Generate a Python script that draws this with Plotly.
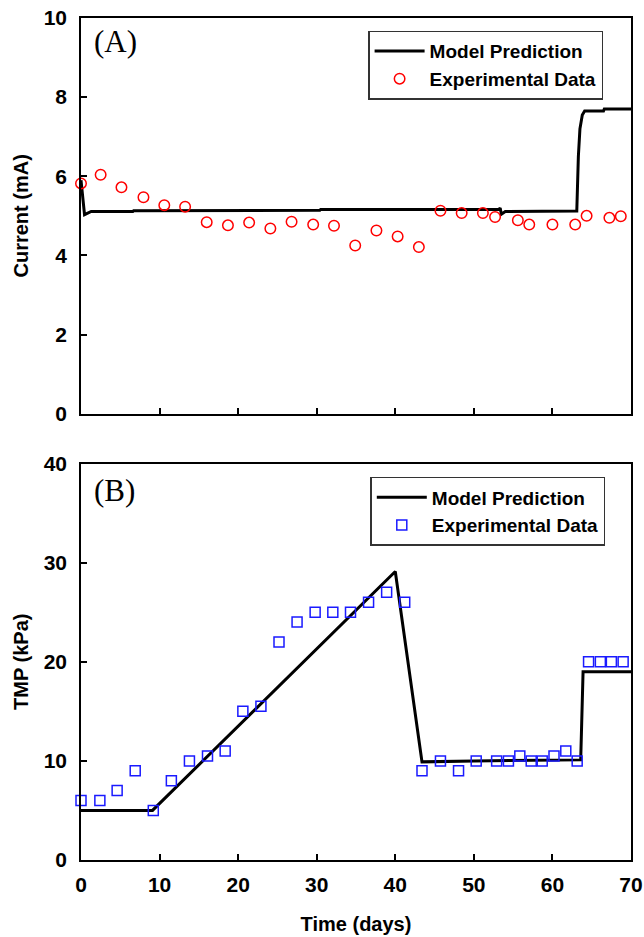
import plotly.graph_objects as go
from plotly.subplots import make_subplots

# ---- Data (A) Current ----
current_days = [0.0, 2.5, 5.15, 7.95, 10.6, 13.25, 16.0, 18.7, 21.4, 24.1, 26.8, 29.55, 32.2,
                34.9, 37.6, 40.3, 43.0, 45.75, 48.45, 51.15, 52.7, 55.6, 57.05, 60.0, 62.9,
                64.35, 67.25, 68.7]
current_vals = [5.82, 6.04, 5.72, 5.47, 5.27, 5.23, 4.84, 4.76, 4.83, 4.68, 4.85, 4.78, 4.75,
                4.25, 4.63, 4.48, 4.21, 5.13, 5.07, 5.07, 4.97, 4.89, 4.78, 4.78, 4.78,
                5.0, 4.95, 4.99]
model_a_days = [0, 0.45, 1.3, 6.6, 6.7, 12.5, 12.6, 30.4, 30.5, 53.2, 53.35, 53.5, 54.0,
                63.1, 63.3, 63.5, 63.8, 64.1, 66.5, 66.6, 70]
model_a_vals = [5.9, 5.03, 5.11, 5.11, 5.13, 5.13, 5.14, 5.14, 5.16, 5.16, 5.2, 5.04, 5.11,
                5.12, 6.5, 7.2, 7.55, 7.65, 7.65, 7.7, 7.7]

# ---- Data (B) TMP ----
tmp_days = [0, 2.4, 4.6, 6.9, 9.2, 11.5, 13.8, 16.1, 18.35, 20.6, 22.9, 25.2, 27.5, 29.8,
            32.05, 34.3, 36.6, 38.9, 41.2, 43.4, 45.75, 48.05, 50.3, 52.9, 54.4, 55.85,
            57.3, 58.7, 60.2, 61.7, 63.15, 64.6, 66.1, 67.5, 69.0]
tmp_vals = [6, 6, 7, 9, 5, 8, 10, 10.5, 11, 15, 15.5, 22, 24, 25, 25, 25, 26, 27, 26,
            9, 10, 9, 10, 10, 10, 10.5, 10, 10, 10.5, 11, 10, 20, 20, 20, 20]
model_b_days = [0, 9.1, 40.0, 43.4, 50.0, 63.6, 63.9, 70]
model_b_vals = [5, 5, 29.1, 9.9, 10.0, 10.1, 19, 19]

x_ticks = [0, 10, 20, 30, 40, 50, 60, 70]
ya_ticks = [0, 2, 4, 6, 8, 10]
yb_ticks = [0, 10, 20, 30, 40]

FONT = "Liberation Sans, Arial, sans-serif"
SERIF = "Liberation Serif, Times New Roman, serif"

fig = make_subplots(rows=2, cols=1, shared_xaxes=False, vertical_spacing=0.06)

fig.add_trace(go.Scatter(x=model_a_days, y=model_a_vals, mode="lines", name="Model Prediction",
                         line=dict(color="black", width=3), legend="legend"), row=1, col=1)
fig.add_trace(go.Scatter(x=current_days, y=current_vals, mode="markers", name="Experimental Data",
                         marker=dict(symbol="circle-open", size=10.5, color="#ff0000",
                                     line=dict(width=1.5, color="#ff0000")),
                         cliponaxis=False, legend="legend"), row=1, col=1)
fig.add_trace(go.Scatter(x=model_b_days, y=model_b_vals, mode="lines", name="Model Prediction",
                         line=dict(color="black", width=3), legend="legend2"), row=2, col=1)
fig.add_trace(go.Scatter(x=tmp_days, y=tmp_vals, mode="markers", name="Experimental Data",
                         marker=dict(symbol="square-open", size=10, color="#1a1aff",
                                     line=dict(width=1.5, color="#1a1aff")),
                         cliponaxis=False, legend="legend2"), row=2, col=1)

axis_common = dict(showline=True, linecolor="black", linewidth=1.5, mirror=True,
                   ticks="inside", ticklen=6, tickwidth=1.5, tickcolor="black",
                   showgrid=False, zeroline=False, automargin=False,
                   tickfont=dict(family=FONT, size=21, color="black", weight="bold"))

top_dom = [(860 - 413.7) / 842, 1.0]
bot_dom = [0.0, (860 - 463.5) / 842]

title_font = dict(family=FONT, size=20, color="black", weight="bold")

fig.update_xaxes(range=[0, 70], tickvals=x_ticks, **axis_common)
fig.update_xaxes(showticklabels=False, row=1, col=1)
fig.update_xaxes(title=dict(text="Time (days)", standoff=22, font=title_font),
                 ticklabelstandoff=5, row=2, col=1)
fig.update_yaxes(**axis_common, ticklabelstandoff=8)
fig.update_yaxes(range=[0, 10], tickvals=ya_ticks, domain=top_dom,
                 title=dict(text="Current (mA)", standoff=10, font=title_font),
                 row=1, col=1)
fig.update_yaxes(range=[0, 40], tickvals=yb_ticks, domain=bot_dom,
                 title=dict(text="TMP (kPa)", standoff=10, font=title_font),
                 row=2, col=1)

legend_common = dict(bgcolor="white", bordercolor="#333333", borderwidth=1.5,
                     font=dict(family=FONT, size=19, color="black", weight="bold"),
                     xanchor="left", yanchor="top", tracegroupgap=0, itemwidth=50)

fig.update_layout(
    width=644, height=937,
    margin=dict(l=81, r=13, t=18, b=77),
    plot_bgcolor="white", paper_bgcolor="white",
    showlegend=True,
    legend=dict(x=0.522, y=0.985, **legend_common),
    legend2=dict(x=0.526, y=0.455, **legend_common),
    annotations=[
        dict(text="(A)", x=0.02, y=(860 - 42) / 842, xref="paper", yref="paper",
             xanchor="left", yanchor="middle", showarrow=False,
             font=dict(family=SERIF, size=31, color="black")),
        dict(text="(B)", x=0.02, y=(860 - 490) / 842, xref="paper", yref="paper",
             xanchor="left", yanchor="middle", showarrow=False,
             font=dict(family=SERIF, size=31, color="black")),
    ],
)

fig.write_html("out.html")
